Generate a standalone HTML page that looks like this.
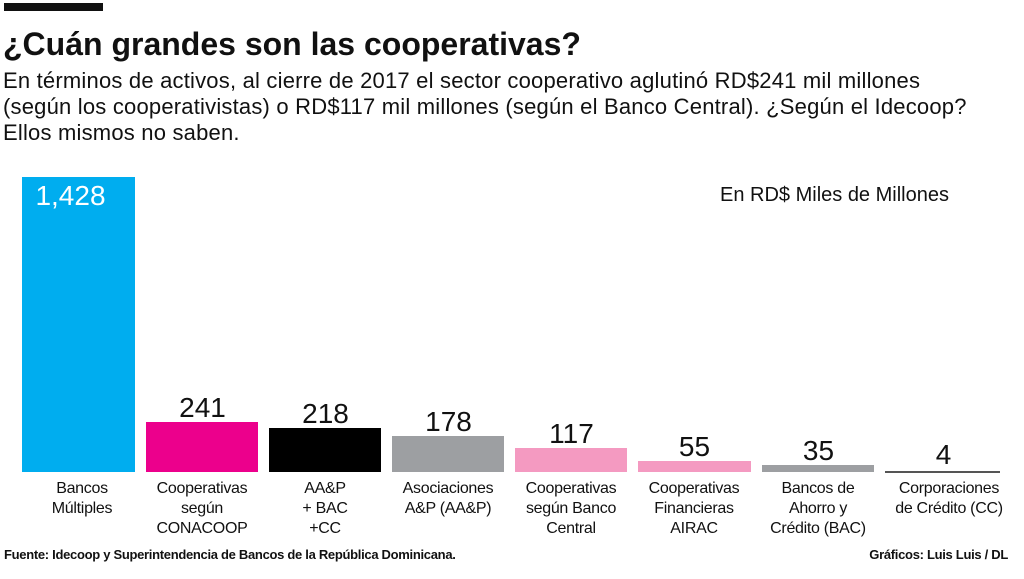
<!DOCTYPE html>
<html><head><meta charset="utf-8"><style>
body{margin:0;width:1024px;height:579px;background:#fff;position:relative;overflow:hidden;font-family:"Liberation Sans",sans-serif;color:#111}
.a{position:absolute}
.bar{position:absolute}
.v{position:absolute;text-align:center;font-size:28px;width:113px}
.l{position:absolute;text-align:center;font-size:16px;line-height:20px;width:124px;letter-spacing:-0.3px}
</style></head><body>
<div class="a" style="left:4px;top:3px;width:99px;height:8px;background:#111"></div>
<div class="a" style="left:3px;top:26px;font-size:32px;font-weight:bold;letter-spacing:0px">¿Cuán grandes son las cooperativas?</div>
<div class="a" style="left:3px;top:68px;font-size:22px;line-height:26px;letter-spacing:0.2px;width:1020px;white-space:nowrap">En términos de activos, al cierre de 2017 el sector cooperativo aglutinó RD$241 mil millones<br>(según los cooperativistas) o RD$117 mil millones (según el Banco Central). ¿Según el Idecoop?<br>Ellos mismos no saben.</div>
<div class="a" style="left:720px;top:184px;font-size:20px">En RD$ Miles de Millones</div>

<div class="bar" style="left:22px;top:177px;width:113px;height:295px;background:#00adef"></div>
<div class="v" style="left:14px;top:180px;color:#fff;width:113px">1,428</div>
<div class="bar" style="left:146px;top:422px;width:112px;height:50px;background:#ec008c"></div>
<div class="v" style="left:146px;top:392px">241</div>
<div class="bar" style="left:269px;top:428px;width:112px;height:44px;background:#000"></div>
<div class="v" style="left:269px;top:398px">218</div>
<div class="bar" style="left:392px;top:436px;width:112px;height:36px;background:#9d9fa2"></div>
<div class="v" style="left:392px;top:406px">178</div>
<div class="bar" style="left:515px;top:448px;width:112px;height:24px;background:#f49ac1"></div>
<div class="v" style="left:515px;top:418px">117</div>
<div class="bar" style="left:638px;top:461px;width:113px;height:11px;background:#f49ac1"></div>
<div class="v" style="left:638px;top:431px">55</div>
<div class="bar" style="left:762px;top:465px;width:112px;height:7px;background:#9d9fa2"></div>
<div class="v" style="left:762px;top:435px">35</div>
<div class="bar" style="left:885px;top:471px;width:115px;height:2px;background:#555"></div>
<div class="v" style="left:887px;top:439px">4</div>

<div class="l" style="left:20px;top:479px">Bancos<br>Múltiples</div>
<div class="l" style="left:140px;top:479px">Cooperativas<br>según<br>CONACOOP</div>
<div class="l" style="left:263px;top:479px">AA&amp;P<br>+ BAC<br>+CC</div>
<div class="l" style="left:386px;top:479px">Asociaciones<br>A&amp;P (AA&amp;P)</div>
<div class="l" style="left:509px;top:479px">Cooperativas<br>según Banco<br>Central</div>
<div class="l" style="left:632px;top:479px">Cooperativas<br>Financieras<br>AIRAC</div>
<div class="l" style="left:756px;top:479px">Bancos de<br>Ahorro y<br>Crédito (BAC)</div>
<div class="l" style="left:887px;top:479px">Corporaciones<br>de Crédito (CC)</div>

<div class="a" style="left:4px;top:547px;font-size:13px;font-weight:bold;letter-spacing:-0.3px">Fuente: Idecoop y Superintendencia de Bancos de la República Dominicana.</div>
<div class="a" style="right:16px;top:547px;font-size:13px;font-weight:bold;letter-spacing:-0.3px">Gráficos: Luis Luis / DL</div>
</body></html>
